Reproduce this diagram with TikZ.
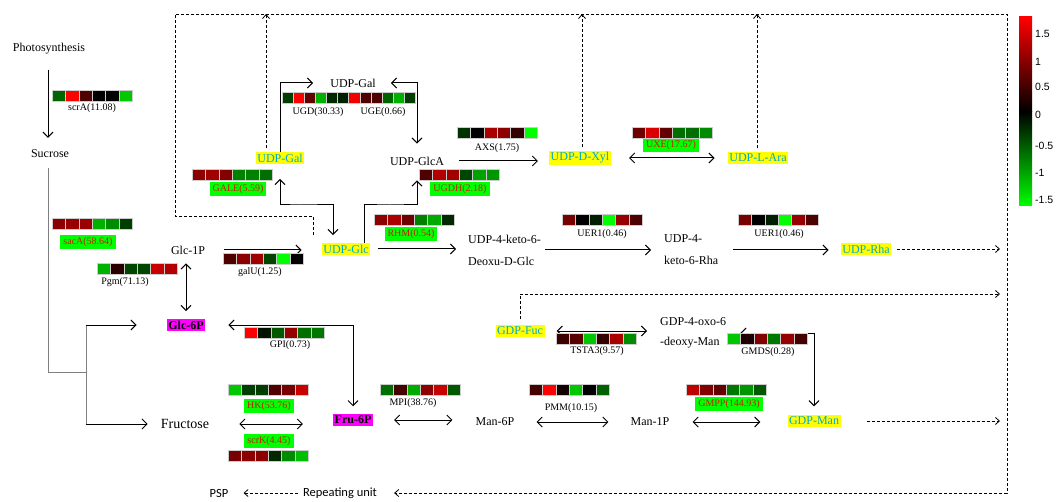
\documentclass[tikz,border=0pt]{standalone}
\usepackage{fontspec}
\setmainfont{Liberation Serif}
\newfontfamily\calibrifont{Carlito}
\newfontfamily\arialfont{Liberation Sans}
\usetikzlibrary{arrows.meta}

\definecolor{metcyan}{RGB}{0,170,205}
\definecolor{metyellow}{RGB}{255,255,0}
\definecolor{metpink}{RGB}{255,0,255}
\definecolor{enzred}{RGB}{200,30,0}
\definecolor{enzgreen}{RGB}{0,255,0}

% one row of expression cells: [cell width]{left}{top}{colours}
\newcommand{\heatrow}[4][13.4]{%
  \foreach \hc [count=\hi from 0] in {#4}{%
    \fill[\hc, draw=gray!40, line width=0.3pt] ({#2+#1*\hi},#3) rectangle ++(#1,11);}}

\begin{document}
\begin{tikzpicture}[x=1pt,y=-1pt,
    arr/.style={line width=1pt, -{Straight Barb[length=5pt,width=10pt]}},
    darr/.style={line width=1pt, {Straight Barb[length=5pt,width=10pt]}-{Straight Barb[length=5pt,width=10pt]}},
    dashline/.style={line width=0.8pt, dash pattern=on 3pt off 2pt, -{Straight Barb[length=4pt,width=7pt]}}]

        \useasboundingbox (0,0) rectangle (1059,502);

        \begin{scope}[every node/.style={font=\fontsize{12}{14}\selectfont, inner sep=1pt}]
          \node (photo)     at (49,49)   {Photosynthesis};
          \node (sucrose)   at (50,154)  {Sucrose};
          \node (glc1p)     at (188,250) {Glc-1P};
          \node (udpgaltop) at (353,83)  {UDP-Gal};
          \node (udpglca)   at (417,161) {UDP-GlcA};
          \node[anchor=west, align=left, font=\fontsize{12}{22}\selectfont] (ketoglc) at (467,250) {UDP-4-keto-6-\\Deoxu-D-Glc};
          \node[anchor=west, align=left, font=\fontsize{12}{22}\selectfont] (ketorha) at (663,250) {UDP-4-\\keto-6-Rha};
          \node[anchor=west, align=left, font=\fontsize{12}{20}\selectfont] (gdpoxo) at (659,333) {GDP-4-oxo-6\\-deoxy-Man};
          \node[font=\fontsize{14}{16}\selectfont] (fructose) at (185,424) {Fructose};
          \node (man6p)     at (495,422) {Man-6P};
          \node (man1p)     at (650,422) {Man-1P};
        \end{scope}

        \begin{scope}[every node/.style={font=\fontsize{12}{14}\selectfont, inner sep=1.5pt, fill=metyellow, text=metcyan}]
          \node (udpglc) at (346,249) {UDP-Glc};
          \node (udpgal) at (280,158) {UDP-Gal};
          \node (udpxyl) at (580,158) {UDP-D-Xyl};
          \node (udpara) at (758,158) {UDP-L-Ara};
          \node (udprha) at (866,249) {UDP-Rha};
          \node (gdpfuc) at (520,331) {GDP-Fuc};
          \node (gdpman) at (814,421) {GDP-Man};
        \end{scope}

        \begin{scope}[every node/.style={font=\bfseries\fontsize{12}{14}\selectfont, inner sep=1.5pt, fill=metpink}]
          \node (glc6p) at (186,325) {Glc-6P};
          \node (fru6p) at (353,420) {Fru-6P};
        \end{scope}

        \begin{scope}[every node/.style={font=\fontsize{10}{12}\selectfont, inner sep=1pt}]
          \node (scra)  at (92,108)  {scrA(11.08)};
          \node (pgm)   at (125,282) {Pgm(71.13)};
          \node (galu)  at (260,272) {galU(1.25)};
          \node (ugd)   at (318,112) {UGD(30.33)};
          \node (uge)   at (383,112) {UGE(0.66)};
          \node (axs)   at (497,148) {AXS(1.75)};
          \node (uera)  at (602,234) {UER1(0.46)};
          \node (uerb)  at (779,234) {UER1(0.46)};
          \node (gpi)   at (290,345) {GPI(0.73)};
          \node (mpi)   at (413,403) {MPI(38.76)};
          \node (pmm)   at (571,408) {PMM(10.15)};
          \node (tsta)  at (597,351) {TSTA3(9.57)};
          \node (gmds)  at (768,352) {GMDS(0.28)};
          \begin{scope}[every node/.append style={fill=enzgreen, text=enzred, inner xsep=3pt, inner ysep=2pt}]
            \node (saca)  at (88,242)  {sacA(58.64)};
            \node (gale)  at (238,189) {GALE(5.59)};
            \node (ugdh)  at (460,189) {UGDH(2.18)};
            \node (rhm)   at (411,234) {RHM(0.54)};
            \node (uxe)   at (671,145) {UXE(17.67)};
            \node (hk)    at (269,406) {HK(53.76)};
            \node (scrk)  at (269,441) {scrK(4.45)};
            \node (gmpp)  at (729,404) {GMPP(144.93)};
          \end{scope}
        \end{scope}

        \begin{scope}[every node/.style={font=\calibrifont\fontsize{12.5}{14}\selectfont, inner sep=1pt}]
          \node (psp)     at (219,493) {PSP};
          \node (repunit) at (340,493) {Repeating unit};
        \end{scope}

        \coordinate (split)    at (86,372);
        \coordinate (treetop)  at (split |- glc6p.west);
        \coordinate (treebot)  at (split |- fructose.west);
        \coordinate (galbend)  at (300,205);
        \coordinate (glcabend) at (390,205);
        \coordinate (loopA)    at (175,216);
        \coordinate (loopB)    at (1007,14);
        \coordinate (fucbend)  at (1000,294);

        % sucrose branch
        \draw[arr] ([xshift=-2pt,yshift=-14pt]sucrose.north |- photo.south) -- ([xshift=-2pt,yshift=11pt]sucrose.north);
        \draw[gray, line width=1pt] ([xshift=-2pt,yshift=-9pt]sucrose.south) |- (split);
        \draw[gray, line width=1pt] (treetop) -- (treebot);
        \draw[arr] (treetop) -- ([xshift=-30pt]glc6p.west);
        \draw[arr] (treebot) -- ([xshift=-12pt]fructose.west);

        % solid reactions
        \draw[darr, shorten <=8pt, shorten >=8pt] (glc6p.north |- glc1p.south) -- (glc6p.north);
        \draw[arr, shorten <=18pt, shorten >=20pt] (glc1p.east) -- (glc1p.east -| udpglc.west);
        \draw[arr] (udpgal.north) |- ([xshift=-16pt]udpgaltop.west);
        \draw[darr] ([xshift=14pt]udpgaltop.east) -| ([yshift=12pt]udpglca.north);
        \draw[darr] ([yshift=-15pt]udpgal.south) |- (galbend) -| ([xshift=-13pt,yshift=8pt]udpglc.north);
        \draw[arr] ([xshift=18pt]udpglc.north) |- (glcabend) -| ([yshift=-14pt]udpglca.south);
        \draw[arr, shorten <=14pt, shorten >=11pt] (udpglca.east) -- (udpglca.east -| udpxyl.west);
        \draw[darr, shorten <=18pt, shorten >=13pt] (udpxyl.east) -- (udpara.west);
        \draw[arr, shorten <=8pt, shorten >=11pt] (udpglc.east) -- (udpglc.east -| ketoglc.west);
        \draw[arr, shorten <=3pt, shorten >=12pt] (ketoglc.east) -- (ketoglc.east -| ketorha.west);
        \draw[arr, shorten <=14pt, shorten >=12pt] (ketorha.east) -- (ketorha.east -| udprha.west);
        \draw[darr] ([xshift=23pt]glc6p.east) -| ([yshift=8pt]fru6p.north);
        \draw[darr, shorten <=29pt, shorten >=30pt] (fructose.east) -- (fructose.east -| fru6p.west);
        \draw[darr, shorten <=21pt, shorten >=22pt] (fru6p.east) -- (fru6p.east -| man6p.west);
        \draw[darr, shorten <=21pt, shorten >=21pt] (man6p.east) -- (man6p.east -| man1p.west);
        \draw[darr, shorten <=22pt, shorten >=27pt] (man1p.east) -- (man1p.east -| gdpman.west);
        \draw[darr] ([yshift=9pt]gdpman.north) |- ([xshift=13pt]gdpoxo.east);
        \draw[darr, shorten <=12pt, shorten >=12pt] (gdpfuc.east) -- (gdpfuc.east -| gdpoxo.west);

        % dashed export lines
        \draw[dashline] ([xshift=-33pt,yshift=8pt]udpglc.north) |- (loopA) |- (loopB) |- ([xshift=16pt]repunit.east);
        \draw[dashline] ([xshift=-14pt,yshift=4pt]udpgal.north) -- ([xshift=-14pt]udpgal.north |- loopB);
        \draw[dashline] ([xshift=2pt,yshift=4pt]udpxyl.north) -- ([xshift=2pt]udpxyl.north |- loopB);
        \draw[dashline] ([xshift=-1pt,yshift=4pt]udpara.north) -- ([xshift=-1pt]udpara.north |- loopB);
        \draw[dashline] ([xshift=6pt]udprha.east) -- ([xshift=-7pt]udprha.east -| loopB);
        \draw[dashline] ([yshift=6pt]gdpfuc.north) |- (fucbend);
        \draw[dashline] ([xshift=26pt]gdpman.east) -- ([xshift=-7pt]gdpman.east -| loopB);
        \draw[dashline] ([xshift=-4pt]repunit.west) -- ([xshift=14pt]psp.east);

        % expression rows
        \heatrow{52}{90}{green!40!black, red, red!31!black, black, black, green!78!black}
        \heatrow{52}{218}{red!55!black, red!60!black, red!60!black, green!70!black, green!55!black, green!24!black}
        \heatrow{97}{263}{green!70!black, red!16!black, green!27!black, green!27!black, red!78!black, red!70!black}
        \heatrow{223}{253}{red!31!black, red!55!black, red!63!black, green!27!black, green, black}
        \heatrow{192}{169}{red!55!black, red!63!black, red!51!black, green!51!black, green!51!black, green!43!black}
        \heatrow[11.1]{282}{92}{green!24!black, red, red!39!black, green!70!black, green!16!black, green!12!black, red!94!black, red!31!black, red!31!black, green!39!black, green!70!black, green!24!black}
        \heatrow{419}{169}{red!31!black, red!70!black, red!63!black, green!27!black, green!63!black, green!59!black}
        \heatrow{374}{214}{red!55!black, red!67!black, red!43!black, green!51!black, green!67!black, green!16!black}
        \heatrow{457}{127}{green!20!black, black, red!67!black, red!55!black, red!20!black, green}
        \heatrow{632}{127}{red!43!black, red!86!black, red!39!black, green!43!black, green!43!black, green!55!black}
        \heatrow{562}{214}{red!47!black, black, green!12!black, green, red!59!black, red!31!black}
        \heatrow{738}{214}{red!47!black, black, green!12!black, green, red!59!black, red!31!black}
        \heatrow{244}{327}{red, green!8!black, green!35!black, red!59!black, green!43!black, green!47!black}
        \heatrow{228}{384}{green!78!black, green!24!black, green!24!black, red!31!black, red!47!black, red!78!black}
        \heatrow{228}{450}{red!47!black, red!55!black, red!55!black, green!16!black, green!55!black, green!75!black}
        \heatrow{380}{384}{green!43!black, red!27!black, green!67!black, red!55!black, red!78!black, green!35!black}
        \heatrow{529}{384}{red!27!black, red, red!8!black, green!78!black, black, green!39!black}
        \heatrow{686}{384}{red!75!black, red!51!black, red!39!black, green!47!black, green!59!black, green!35!black}
        \heatrow{556}{333}{red!24!black, red!35!black, green!78!black, red!20!black, red!67!black, green!55!black}
        \heatrow{727}{333}{green!78!black, red!12!black, red!51!black, green!47!black, red!59!black, red!27!black}

        % colour scale
        \shade[top color=red, bottom color=black] (1019,17) rectangle (1032,111.5);
        \shade[top color=black, bottom color=green] (1019,111.5) rectangle (1032,206);
        \begin{scope}[every node/.style={font=\arialfont\fontsize{10.5}{12}\selectfont, anchor=west, inner sep=0pt}]
          \node (sc1) at (1035,34)  {1.5};
          \node (sc2) at (1035,62)  {1};
          \node (sc3) at (1035,87)  {0.5};
          \node (sc4) at (1035,115) {0};
          \node (sc5) at (1035,146) {-0.5};
          \node (sc6) at (1035,173) {-1};
          \node (sc7) at (1035,200) {-1.5};
        \end{scope}

      \end{tikzpicture}
\end{document}
